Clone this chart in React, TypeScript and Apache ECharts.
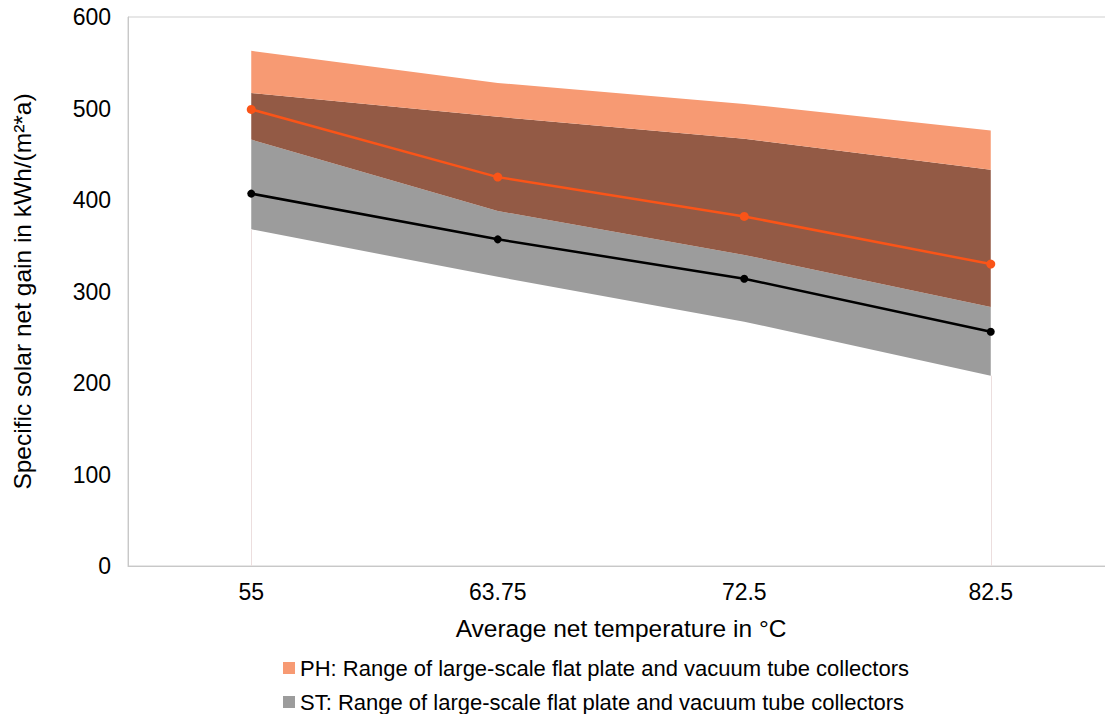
import React, { useEffect, useRef } from "react";
import * as echarts from "echarts";

const categories = ["55", "63.75", "72.5", "82.5"];
const phHigh = [563, 528, 505, 476];
const phLow = [466, 388, 340, 283];
const stHigh = [517, 491, 467, 433];
const stLow = [368, 316, 267, 208];
const phLine = [499, 425, 382, 330];
const stLine = [407, 357, 314, 256];
const yTicks = [0, 100, 200, 300, 400, 500, 600];

const PH_NAME = "PH: Range of large-scale flat plate and vacuum tube collectors";
const ST_NAME = "ST: Range of large-scale flat plate and vacuum tube collectors";

export default function App() {
  const ref = useRef<HTMLDivElement>(null);
  useEffect(() => {
    if (!ref.current) return;
    const chart = echarts.init(ref.current, undefined, { renderer: "svg" });
    const font = "'Liberation Sans', Arial, sans-serif";
    const grayBand = phLow.map((v, i) => v - stLow[i]);
    const brownBand = stHigh.map((v, i) => v - phLow[i]);
    const orangeBand = phHigh.map((v, i) => v - stHigh[i]);
    const last = categories.length - 1;
    chart.setOption({
      animation: false,
      textStyle: { fontFamily: font },
      grid: {
        left: 128,
        right: 11,
        top: 17,
        bottom: 148,
        show: true,
        borderColor: "#cfcfcf",
        borderWidth: 1,
        containLabel: false,
      },
      legend: {
        orient: "vertical",
        left: 278,
        top: 652,
        height: 120,
        padding: 5,
        itemWidth: 12,
        itemHeight: 12,
        itemGap: 12,
        icon: "rect",
        data: [PH_NAME, ST_NAME],
        textStyle: { fontSize: 22, color: "#000", fontFamily: font, lineHeight: 22 },
      },
      xAxis: {
        type: "category",
        data: categories,
        boundaryGap: true,
        name: "Average net temperature in °C",
        nameLocation: "middle",
        nameGap: 50,
        nameTextStyle: { fontSize: 24.5, color: "#000", fontFamily: font },
        axisLine: { lineStyle: { color: "#c8c8c8", width: 1 } },
        axisTick: { show: false },
        axisLabel: { fontSize: 23, color: "#000", margin: 14, fontFamily: font },
        splitLine: { show: false },
      },
      yAxis: {
        type: "value",
        min: yTicks[0],
        max: yTicks[yTicks.length - 1],
        interval: 100,
        name: "Specific solar net gain in kWh/(m²*a)",
        nameLocation: "middle",
        nameGap: 93,
        nameTextStyle: { fontSize: 24.5, color: "#000", fontFamily: font },
        axisLine: { show: true, lineStyle: { color: "#c8c8c8", width: 1 } },
        axisTick: { show: false },
        axisLabel: { fontSize: 23, color: "#000", margin: 17, fontFamily: font },
        splitLine: { show: false },
      },
      series: [
        {
          name: "base",
          type: "line",
          stack: "range",
          data: stLow,
          symbol: "none",
          lineStyle: { width: 0, opacity: 0 },
          areaStyle: { opacity: 0 },
          silent: true,
          z: 1,
          markLine: {
            silent: true,
            symbol: "none",
            label: { show: false },
            lineStyle: { color: "#ecdede", width: 1, type: "solid" },
            data: [
              [{ coord: [0, 0] }, { coord: [0, stLow[0]] }],
              [{ coord: [last, 0] }, { coord: [last, stLow[last]] }],
            ],
          },
        },
        {
          name: ST_NAME,
          type: "line",
          stack: "range",
          data: grayBand,
          symbol: "none",
          itemStyle: { color: "#9c9c9c" },
          lineStyle: { width: 0 },
          areaStyle: { color: "#9c9c9c", opacity: 1 },
          z: 2,
        },
        {
          name: "overlap",
          type: "line",
          stack: "range",
          data: brownBand,
          symbol: "none",
          itemStyle: { color: "#935a45" },
          lineStyle: { width: 0 },
          areaStyle: { color: "#935a45", opacity: 1 },
          z: 2,
        },
        {
          name: PH_NAME,
          type: "line",
          stack: "range",
          data: orangeBand,
          symbol: "none",
          itemStyle: { color: "#f79a73" },
          lineStyle: { width: 0 },
          areaStyle: { color: "#f79a73", opacity: 1 },
          z: 2,
        },
        {
          name: "PH mean",
          type: "line",
          data: phLine,
          symbol: "circle",
          symbolSize: 9,
          itemStyle: { color: "#fa5418" },
          lineStyle: { color: "#fa5418", width: 2.5 },
          z: 5,
        },
        {
          name: "ST mean",
          type: "line",
          data: stLine,
          symbol: "circle",
          symbolSize: 8,
          itemStyle: { color: "#000" },
          lineStyle: { color: "#000", width: 2.5 },
          z: 5,
        },
      ],
    });
    return () => chart.dispose();
  }, []);
  return (
    <div
      style={{ position: "fixed", left: 0, top: 0, width: 1105, height: 714, overflow: "hidden", background: "#fff" }}
    >
      <div ref={ref} style={{ width: 1125, height: 714 }} />
    </div>
  );
}
